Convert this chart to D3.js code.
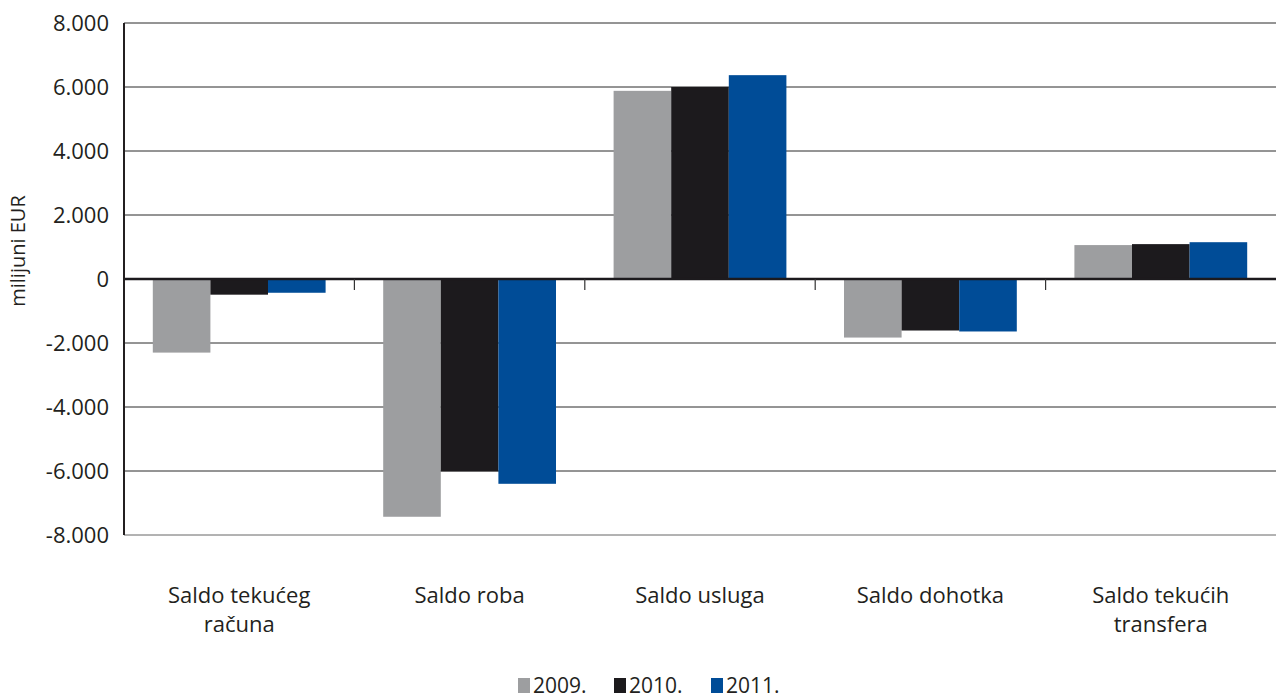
<!DOCTYPE html>
<html>
<head>
<meta charset="utf-8">
<script src="https://cdn.jsdelivr.net/npm/d3@7"></script>
<style>
  body { margin: 0; background: #fff; }
  svg { display: block; font-family: "Open Sans", Roboto, sans-serif; }
</style>
</head>
<body>
<svg id="chart"></svg>
<script>
const width = 1276;
const height = 699;

const categories = [
    ['Saldo tekućeg', 'računa'],
    ['Saldo roba'],
    ['Saldo usluga'],
    ['Saldo dohotka'],
    ['Saldo tekućih', 'transfera']
];
const years = ['2009.', '2010.', '2011.'];
const values2009 = [-2300, -7430, 5880, -1830, 1060];
const values2010 = [-490, -6010, 6000, -1610, 1090];
const values2011 = [-430, -6400, 6370, -1640, 1150];
const yTicks = [-8000, -6000, -4000, -2000, 0, 2000, 4000, 6000, 8000];
const colors = ['#9d9ea0', '#1c1a1d', '#004c97'];

const series = [values2009, values2010, values2011];
const margin = { top: 23, right: 0, bottom: 164, left: 124 };

const svg = d3.select('#chart')
    .attr('width', width)
    .attr('height', height);

const x = d3.scaleBand()
    .domain(d3.range(categories.length))
    .range([margin.left, width - margin.right]);

// three bars fill the middle 75% of each category
const xInner = d3.scaleBand()
    .domain(d3.range(years.length))
    .range([0, x.bandwidth()])
    .paddingInner(0)
    .paddingOuter(0.5);

const y = d3.scaleLinear()
    .domain([-8000, 8000])
    .range([height - margin.bottom, margin.top]);

const fmt = d => d3.format(',')(d).replace(/,/g, '.').replace('−', '-');

// grid lines
svg.append('g')
    .selectAll('line')
    .data(yTicks.filter(d => d !== 0))
    .enter().append('line')
    .attr('x1', margin.left)
    .attr('x2', width - margin.right)
    .attr('y1', d => y(d))
    .attr('y2', d => y(d))
    .style('stroke', d => d === -8000 ? '#666' : '#2a2a2a')
    .style('stroke-width', 1);

// y labels
svg.append('g')
    .selectAll('text')
    .data(yTicks)
    .enter().append('text')
    .attr('x', 109)
    .attr('y', d => y(d))
    .attr('dy', '0.36em')
    .attr('text-anchor', 'end')
    .style('font-size', '22px')
    .style('fill', '#231f20')
    .text(fmt);

// bars
const groups = svg.append('g')
    .selectAll('g')
    .data(categories.map((c, i) => i))
    .enter().append('g')
    .attr('transform', i => `translate(${x(i)},0)`);

groups.selectAll('rect')
    .data(i => series.map((s, j) => ({ j, v: s[i] })))
    .enter().append('rect')
    .attr('x', d => xInner(d.j))
    .attr('width', xInner.bandwidth())
    .attr('y', d => y(Math.max(0, d.v)))
    .attr('height', d => Math.abs(y(d.v) - y(0)))
    .style('fill', d => colors[d.j]);

// zero line
svg.append('line')
    .attr('x1', margin.left)
    .attr('x2', width)
    .attr('y1', y(0))
    .attr('y2', y(0))
    .style('stroke', '#1c1a1d')
    .style('stroke-width', 2.5);

// category ticks on zero line
svg.append('g')
    .selectAll('line')
    .data(d3.range(1, categories.length))
    .enter().append('line')
    .attr('x1', i => x(i))
    .attr('x2', i => x(i))
    .attr('y1', y(0))
    .attr('y2', y(0) + 11)
    .style('stroke', '#333')
    .style('stroke-width', 1.2);

// left axis
svg.append('line')
    .attr('x1', margin.left)
    .attr('x2', margin.left)
    .attr('y1', y(8000))
    .attr('y2', y(-8000))
    .style('stroke', '#231f20')
    .style('stroke-width', 2);

// category labels
const catLabels = svg.append('g')
    .selectAll('text')
    .data(categories)
    .enter().append('text')
    .attr('x', (d, i) => x(i) + x.bandwidth() / 2)
    .attr('y', 603)
    .attr('text-anchor', 'middle')
    .style('font-size', '22px')
    .style('fill', '#231f20');

catLabels.selectAll('tspan')
    .data(d => d)
    .enter().append('tspan')
    .attr('x', function () { return d3.select(this.parentNode).attr('x'); })
    .attr('dy', (d, k) => k === 0 ? 0 : 29)
    .text(d => d);

// y axis title
svg.append('text')
    .attr('transform', 'translate(25,251) rotate(-90)')
    .attr('text-anchor', 'middle')
    .style('font-size', '20px')
    .style('fill', '#231f20')
    .text('milijuni EUR');

// legend
const legendX = [518, 614, 711];
const legend = svg.append('g')
    .selectAll('g')
    .data(years)
    .enter().append('g')
    .attr('transform', (d, i) => `translate(${legendX[i]},678)`);

legend.append('rect')
    .attr('width', 12)
    .attr('height', 15)
    .style('fill', (d, i) => colors[i]);

legend.append('text')
    .attr('x', 15)
    .attr('y', 15)
    .style('font-size', '21px')
    .style('fill', '#231f20')
    .text(d => d);
</script>
</body>
</html>
